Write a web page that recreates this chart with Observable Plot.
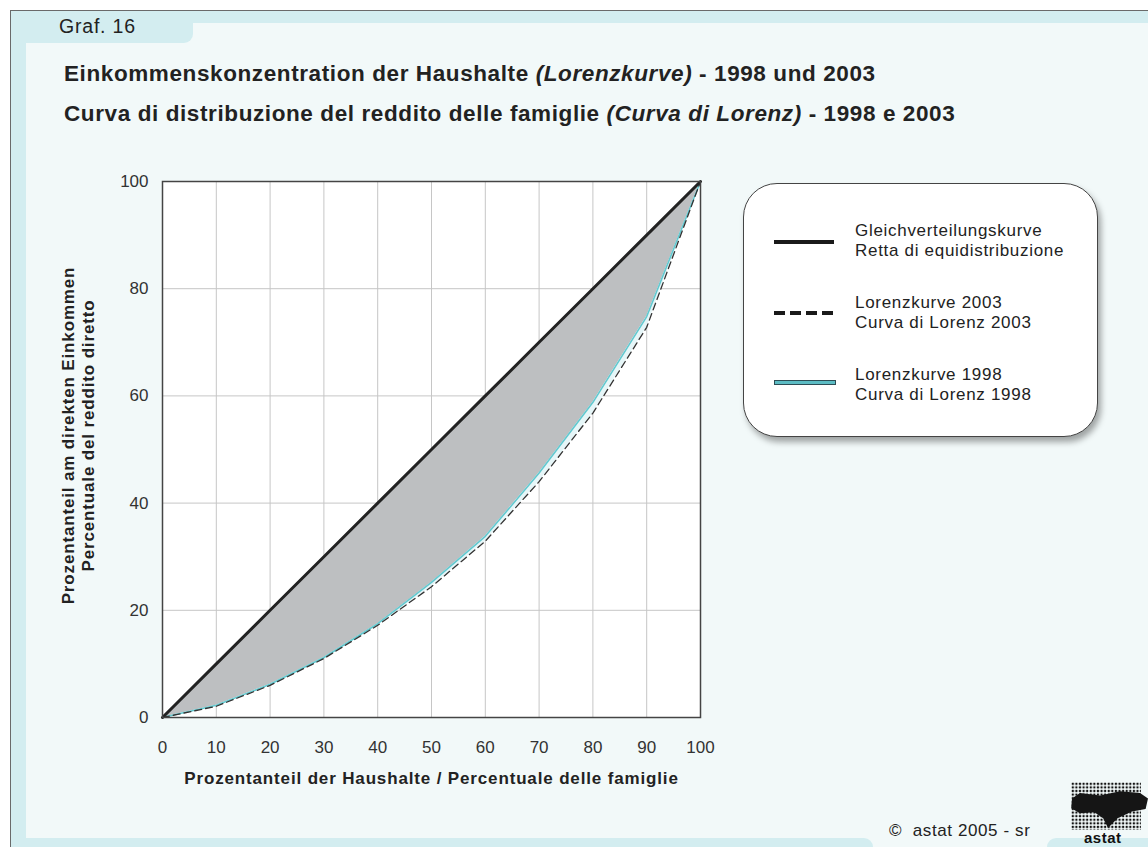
<!DOCTYPE html>
<html>
<head>
<meta charset="utf-8">
<script src="https://cdn.jsdelivr.net/npm/d3@7"></script>
<script src="https://cdn.jsdelivr.net/npm/@observablehq/plot@0.6"></script>
<style>
  html, body { margin: 0; padding: 0; background: #fff; }
  #page { position: relative; width: 1148px; height: 847px; overflow: hidden; font-family: "Liberation Sans", Arial, sans-serif; color: #222; }
  .abs { position: absolute; }
  #outer { left: 10px; top: 10px; right: 0; bottom: 0; background: #d3edf0; border-top: 1.5px solid #6a6a6a; border-left: 1.5px solid #6a6a6a; }
  #panel { left: 26px; top: 23px; right: 0; bottom: 0; background: #f2f9f9; }
  #tab { left: 26px; top: 23px; width: 167px; height: 20px; background: #d3edf0; border-bottom-right-radius: 9px; }
  #botL { left: 26px; top: 838px; width: 847px; height: 12px; background: #d3edf0; border-top-right-radius: 9px; }
  #botR { left: 1047px; top: 838px; width: 120px; height: 12px; background: #d3edf0; border-top-left-radius: 9px; }
  #graf { left: 59px; top: 15px; font-size: 19.5px; letter-spacing: 0.8px; color: #222; }
  .title { left: 64px; font-size: 22.5px; letter-spacing: 0.6px; font-weight: bold; color: #222; white-space: nowrap; }
  #legend { left: 743px; top: 183px; width: 353px; height: 252px; background: #fff; border: 1.2px solid #444; border-radius: 34px; box-shadow: 3px 5px 6px rgba(0,0,0,0.35); }
  .lt { font-size: 17px; line-height: 19.5px; letter-spacing: 0.7px; color: #222; white-space: nowrap; }
  #copy { left: 889px; top: 821px; font-size: 17px; letter-spacing: 0.6px; color: #222; white-space: nowrap; }
  #logo { left: 1071px; top: 782px; width: 70px; height: 48px; background-image: radial-gradient(circle, #111 1.1px, transparent 1.5px); background-size: 3.6px 3.6px; }
  #blob { left: 1068px; top: 788px; width: 80px; height: 42px; background: #151515;
          clip-path: polygon(5% 25%, 15% 12%, 40% 18%, 65% 8%, 90% 12%, 100% 25%, 97% 50%, 80% 56%, 62% 72%, 50% 95%, 44% 72%, 33% 58%, 15% 60%, 4% 48%); }
  #astat { left: 1084px; top: 830px; font-size: 15px; line-height: 15px; font-weight: bold; color: #111; letter-spacing: 0.5px; }
  #chart { left: 0; top: 0; }
</style>
</head>
<body>
<div id="page">
  <div id="outer" class="abs"></div>
  <div id="panel" class="abs"></div>
  <div id="tab" class="abs"></div>
  <div id="botL" class="abs"></div>
  <div id="botR" class="abs"></div>
  <div id="graf" class="abs">Graf. 16</div>
  <div class="abs title" style="top:61px">Einkommenskonzentration der Haushalte <i>(Lorenzkurve)</i> - 1998 und 2003</div>
  <div class="abs title" style="top:101px">Curva di distribuzione del reddito delle famiglie <i>(Curva di Lorenz)</i> - 1998 e 2003</div>
  <div id="chart" class="abs"></div>
  <div id="legend" class="abs"></div>
  <div id="copy" class="abs">©&nbsp; astat 2005 - sr</div>
  <div id="logo" class="abs"></div>
  <div id="blob" class="abs"></div>
  <div id="astat" class="abs">astat</div>
</div>
<script>
// ---- data ----
const shares = [0, 10, 20, 30, 40, 50, 60, 70, 80, 90, 100];
const lorenz1998 = [0, 2.3, 6.2, 11.2, 17.5, 25.2, 33.8, 45.6, 58.8, 74.8, 100];
const lorenz2003 = [0, 2.1, 6.0, 11.0, 17.2, 24.4, 32.9, 44.0, 56.8, 72.8, 100];
const equality = [0, 10, 20, 30, 40, 50, 60, 70, 80, 90, 100];
const xTicks = [0, 10, 20, 30, 40, 50, 60, 70, 80, 90, 100];
const yTicks = [0, 20, 40, 60, 80, 100];
const xLabel = "Prozentanteil der Haushalte / Percentuale delle famiglie";
const yLabel = "Prozentanteil am direkten Einkommen\nPercentuale del reddito diretto";
const legendItems = [
  {de: "Gleichverteilungskurve", it: "Retta di equidistribuzione", kind: "solid"},
  {de: "Lorenzkurve 2003", it: "Curva di Lorenz 2003", kind: "dashed"},
  {de: "Lorenzkurve 1998", it: "Curva di Lorenz 1998", kind: "cyan"}
];

const table = shares.map((s, i) => ({share: s, l1998: lorenz1998[i], l2003: lorenz2003[i], equal: equality[i]}));

const chart = Plot.plot({
  width: 1148,
  height: 847,
  marginLeft: 162,
  marginRight: 448,
  marginTop: 181,
  marginBottom: 130,
  x: {domain: [0, 100]},
  y: {domain: [0, 100]},
  style: {background: "transparent", fontFamily: "'Liberation Sans', Arial, sans-serif", fontSize: "17px", color: "#333"},
  marks: [
    Plot.frame({fill: "white"}),
    Plot.gridX(xTicks, {stroke: "#c6c6c6", strokeOpacity: 1, strokeWidth: 1}),
    Plot.gridY(yTicks, {stroke: "#c6c6c6", strokeOpacity: 1, strokeWidth: 1}),
    Plot.areaY(table, {x: "share", y1: "l1998", y2: "equal", fill: "#bdbfc1"}),
    Plot.areaY(table, {x: "share", y1: "l2003", y2: "l1998", fill: "#e6f6f8"}),
    Plot.line(table, {x: "share", y: "l1998", stroke: "#62c8cf", strokeWidth: 1.6}),
    Plot.line(table, {x: "share", y: "l2003", stroke: "#333", strokeWidth: 1.3, strokeDasharray: "7,4"}),
    Plot.line(table, {x: "share", y: "equal", stroke: "#222", strokeWidth: 3}),
    Plot.frame({stroke: "#444", strokeWidth: 1.5}),
    Plot.axisX(xTicks, {tickSize: 0, tickPadding: 23, fontSize: 17, label: null, fill: "#333"}),
    Plot.axisY(yTicks, {tickSize: 0, tickPadding: 14, fontSize: 17, label: null, fill: "#333"}),
    Plot.text([xLabel], {text: d => d, frameAnchor: "bottom", dy: 66, textAnchor: "middle", fontWeight: "bold", fontSize: 17, fill: "#222"}),
    Plot.text([yLabel], {text: d => d, frameAnchor: "left", dx: -85, dy: -14, rotate: -90, textAnchor: "middle", lineAnchor: "middle", fontWeight: "bold", fontSize: 17, lineHeight: 1.2, fill: "#222"})
  ]
});
d3.select(chart).selectAll("text")
  .filter(function() { const t = this.textContent; return t.startsWith("Prozentanteil"); })
  .attr("letter-spacing", "0.85px");
document.getElementById("chart").appendChild(chart);

// ---- legend ----
const legend = document.getElementById("legend");
const textTops = [37, 109, 181];
const sampleTops = [56, 127, 196];
legendItems.forEach((item, i) => {
  const sample = document.createElement("div");
  sample.className = "abs";
  sample.style.left = "30px";
  sample.style.width = "60px";
  sample.style.top = sampleTops[i] + "px";
  if (item.kind === "solid") {
    sample.style.height = "4px";
    sample.style.background = "#1a1a1a";
  } else if (item.kind === "dashed") {
    sample.style.height = "4px";
    sample.style.background = "repeating-linear-gradient(90deg, #1a1a1a 0 11px, transparent 11px 16px)";
  } else {
    sample.style.height = "3px";
    sample.style.background = "#5cbcc4";
    sample.style.border = "1px solid #2e4d55";
  }
  legend.appendChild(sample);
  const txt = document.createElement("div");
  txt.className = "abs lt";
  txt.style.left = "111px";
  txt.style.top = textTops[i] + "px";
  txt.innerHTML = item.de + "<br>" + item.it;
  legend.appendChild(txt);
});
</script>
</body>
</html>
